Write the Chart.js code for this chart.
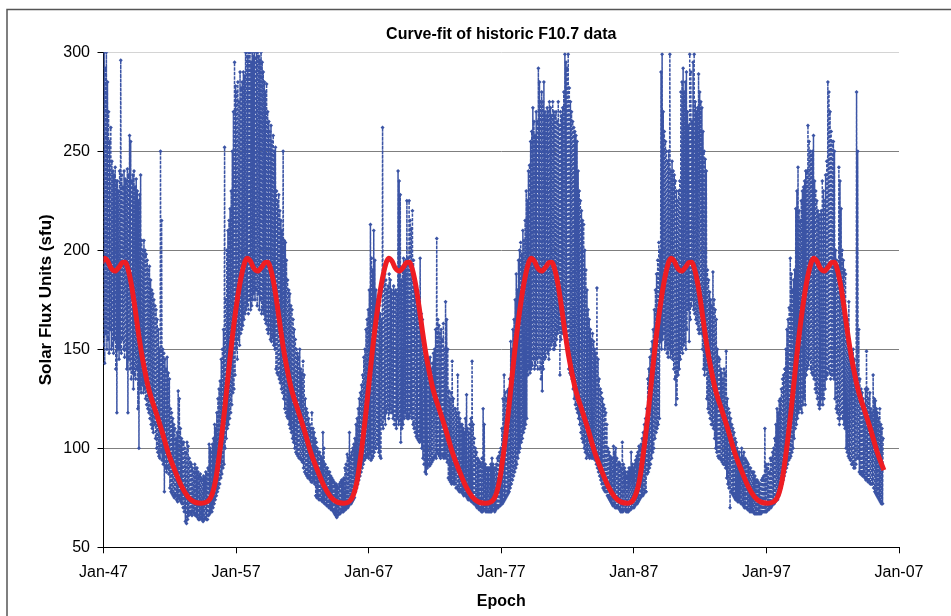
<!DOCTYPE html>
<html>
<head>
<meta charset="utf-8">
<title>Curve-fit of historic F10.7 data</title>
<script src="https://cdn.jsdelivr.net/npm/chart.js@4.4.1/dist/chart.umd.min.js"></script>
<style>
  html, body { margin: 0; padding: 0; background: #fff; }
  #chart { display: block; }
</style>
</head>
<body>
<canvas id="chart" width="951" height="616"></canvas>
<script>
// Daily F10.7 flux, summarised per month as the low and high of that month's streak (sfu)
const lo1940s = [
  152,143,158,150,155,148,160,150,152,148,155,140, // 1947
  118,150,145,150,148,155,150,146,150,140,118,145, // 1948
  140,135,138,130,137,135,140,120,100,130,128,132, // 1949
];
const hi1940s = [
  300,292,300,285,270,255,262,245,240,238,242,235,
  235,230,240,296,238,232,240,236,235,241,238,258,
  255,235,238,240,232,236,230,225,228,238,205,200,
];
const lo1950s = [
  128,130,125,122,120,118,115,112,110,108,112,105, // 1950
  100,98,96,95,98,94,92,78,90,88,90,87,
  80,78,77,76,75,76,74,73,75,74,73,72,
  70,68,63,62,64,66,68,67,66,68,67,66,
  66,65,64,64,65,64,63,64,65,64,64,66,
  67,68,68,70,72,74,76,78,80,82,85,87,
  90,92,100,105,110,112,115,118,122,128,130,137,
  150,145,155,152,158,160,162,165,168,170,172,168,
  175,170,172,175,178,175,180,172,178,170,175,168,
  170,168,165,163,160,158,160,155,154,156,152,150, // 1959
];
const hi1950s = [
  205,200,198,195,190,192,185,180,178,175,172,170,
  165,160,150,250,215,150,148,145,140,146,138,135,
  120,118,115,112,110,105,108,129,125,110,105,103,
  103,100,98,103,101,95,93,92,90,88,92,90,
  90,88,86,87,85,84,86,85,88,87,90,102,
  100,98,102,105,112,110,118,125,130,134,145,150,
  160,252,175,200,210,215,221,230,250,270,295,283,
  280,285,275,290,282,285,290,288,300,300,298,300,
  300,295,300,298,300,297,300,300,298,296,300,295,
  290,285,280,284,270,265,260,263,255,258,250,252,
];
const lo1960s = [
  140,138,137,135,133,130,128,125,120,118,116,115, // 1960
  112,110,108,105,103,100,98,97,96,95,95,94,
  93,90,88,87,86,85,85,84,83,83,84,82,
  76,75,75,74,74,74,73,73,72,72,71,71,
  70,70,69,69,68,67,66,65,66,67,67,68,
  68,68,69,69,70,70,71,72,72,73,74,75,
  78,80,82,84,86,88,90,92,94,95,96,96,
  95,97,94,95,96,98,100,100,102,98,96,95,
  112,110,115,112,118,120,115,118,120,118,115,112,
  112,110,115,112,114,103,110,112,115,118,116,115, // 1969
];
const hi1960s = [
  230,225,228,220,215,210,250,205,204,195,185,180,
  178,172,170,165,160,155,150,148,146,150,140,138,
  144,137,125,120,118,115,112,110,118,110,108,105,
  103,100,98,98,96,95,108,100,92,90,90,88,
  88,86,85,84,83,82,82,81,80,82,83,84,
  84,85,90,92,97,95,108,96,98,100,102,105,
  112,115,120,125,128,132,137,146,150,160,165,170,
  180,213,196,190,210,195,180,175,170,172,168,165,
  262,185,188,185,180,182,188,185,180,178,182,179,
  180,178,240,235,228,185,190,196,192,195,225,196,
];
const lo1970s = [
  115,116,118,115,112,110,108,106,105,104,103,104, // 1970
  100,95,92,88,87,90,92,91,92,93,94,95,
  96,95,98,97,96,95,97,96,95,96,95,93,
  85,84,83,82,83,82,82,80,80,79,78,78,
  78,77,76,77,76,75,74,74,74,73,73,72,
  72,71,70,70,69,69,68,68,69,69,68,68,
  68,68,68,68,69,69,68,69,70,70,71,71,
  72,72,73,74,75,76,77,78,80,82,84,86,
  88,90,92,95,98,100,103,105,108,110,112,115,
  137,140,138,140,142,145,140,142,145,140,146,140, // 1979
];
const hi1970s = [
  225,215,211,220,195,180,175,172,170,171,196,168,
  165,150,146,145,140,142,145,146,140,143,148,150,
  160,206,165,162,158,160,155,163,150,174,165,150,
  129,125,128,144,125,120,120,118,137,118,115,112,
  112,110,108,115,127,110,108,112,115,144,112,105,
  100,98,95,94,93,92,95,120,112,92,90,90,
  90,90,92,95,92,90,90,92,95,96,98,100,
  110,125,137,128,125,129,130,135,154,150,160,165,
  175,188,180,195,200,204,198,210,205,215,230,225,
  240,243,255,260,272,265,258,270,265,292,285,275,
];
const lo1980s = [
  135,129,140,145,146,150,148,145,150,152,154,150, // 1980
  150,152,155,158,160,137,155,158,160,163,160,162,
  150,140,138,137,135,130,125,122,120,118,115,112,
  108,105,103,100,98,95,97,96,95,96,95,95,
  95,94,92,90,88,86,84,82,80,79,78,78,
  76,75,74,73,72,71,71,70,70,70,70,69,
  68,68,68,69,69,68,68,68,69,69,70,70,
  70,71,72,72,73,74,75,76,76,77,78,78,
  87,88,90,92,95,98,100,105,108,110,112,115,
  154,150,155,158,150,152,148,146,150,146,148,145, // 1989
];
const hi1980s = [
  280,275,285,270,268,272,270,275,272,268,275,270,
  268,270,265,275,263,270,268,272,280,299,295,292,
  299,282,275,270,265,262,260,258,255,240,230,225,
  220,215,213,200,190,180,170,165,160,155,158,154,
  150,148,181,145,135,130,128,125,122,120,118,112,
  100,98,96,95,95,101,98,100,95,92,93,92,
  90,103,92,90,88,86,88,90,90,98,92,90,
  92,94,96,98,101,100,102,105,108,112,115,120,
  135,140,146,150,154,160,170,180,188,195,204,200,
  290,299,270,260,255,250,245,250,299,240,245,240,
];
const lo1990s = [
  140,135,122,125,137,140,145,150,148,152,154,150, // 1990
  160,170,154,165,172,175,170,168,165,163,160,158,
  160,158,150,140,137,140,125,120,118,115,112,112,
  110,105,100,98,96,95,95,94,93,92,92,90,
  85,82,80,70,78,77,76,75,74,74,73,73,
  73,72,72,71,70,70,70,69,69,68,68,68,
  68,67,67,67,67,67,67,67,68,68,68,68,
  68,69,69,70,70,71,72,72,73,74,74,76,
  78,80,82,84,86,88,90,92,94,95,96,98,
  100,105,110,112,115,118,120,120,118,122,125,122, // 1999
];
const hi1990s = [
  238,235,230,225,230,235,280,285,292,280,285,290,
  270,263,299,290,265,295,299,275,270,272,289,280,
  275,272,260,250,246,240,190,185,179,175,172,189,
  175,170,165,150,146,145,140,138,135,140,138,149,
  125,120,118,115,112,110,108,105,103,100,98,98,
  95,100,96,98,95,94,93,92,90,90,88,88,
  88,86,84,84,83,82,82,84,85,86,110,92,
  90,92,88,95,95,98,100,105,112,120,118,124,
  125,130,135,137,140,150,160,165,171,196,188,180,
  185,190,221,230,242,220,215,225,230,232,235,240,
];
const lo2000s = [
  137,140,142,145,140,138,137,135,130,128,125,122, // 2000
  120,122,125,122,125,130,135,137,140,138,135,137,
  137,135,125,120,118,115,112,115,118,115,112,110,
  100,98,96,95,94,92,92,90,90,92,95,95,
  88,87,87,86,86,85,84,84,83,83,82,82,
  82,80,78,77,76,75,74,73,72,72, // 2005, Jan-Oct
];
const hi2000s = [
  240,263,255,250,248,250,258,235,230,225,220,218,
  218,220,235,230,225,238,245,285,280,270,260,255,
  255,250,200,195,190,242,235,221,200,195,190,188,
  154,160,174,150,148,145,150,145,140,280,250,160,
  135,130,128,125,122,130,149,130,125,128,120,118,
  137,125,124,120,118,115,120,112,110,105,
];

// Curve fit: epoch of the dip between the twin peaks of each cycle, and the fitted shape around it
const fitDips   = [1947.87, 1958.63, 1969.31, 1980.05, 1990.60, 2001.36];
const fitOffset = [-3.6, -3.2, -2.85, -2.47, -2.1, -1.75, -1.35, -1.0, -0.8, -0.55, -0.3, 0,
                   0.3, 0.55, 0.75, 1.0, 1.25, 1.5, 1.75, 2.0, 2.25, 2.5, 2.75, 3.0,
                   3.5, 4.0, 4.5, 5.0, 5.5, 6.0, 6.5];
const fitShape  = [74.5, 83, 99, 121, 145, 165, 183, 193.5, 196, 194.5, 191, 189.5,
                   191.5, 193.8, 194, 190, 182, 171, 159, 148, 139, 131, 125, 120,
                   109.5, 98, 89, 81, 75.5, 72.8, 72.3];
const fitEnd = 2005.9;

const xTickYears = [1947, 1957, 1967, 1977, 1987, 1997, 2007];
const yTicks = [50, 100, 150, 200, 250, 300];

const FONT = "'Liberation Sans', Arial, sans-serif";
const BLUE = '#3b54a5';
const RED  = '#ee1d23';

const decades = [
  [1947, lo1940s, hi1940s],
  [1950, lo1950s, hi1950s],
  [1960, lo1960s, hi1960s],
  [1970, lo1970s, hi1970s],
  [1980, lo1980s, hi1980s],
  [1990, lo1990s, hi1990s],
  [2000, lo2000s, hi2000s],
];

const cloud = [];
decades.forEach(([start, lo, hi]) => {
  lo.forEach((v, i) => {
    const t = start + i / 12;
    cloud.push({ x: t + 0.1 / 12, y: v });
    cloud.push({ x: t + 0.6 / 12, y: hi[i] });
  });
});

const fit = [];
fitDips.forEach(d => {
  fitOffset.forEach((o, i) => {
    if (d + o <= fitEnd) fit.push({ x: d + o, y: fitShape[i] });
  });
});

const chartFrame = {
  id: 'chartFrame',
  beforeDraw(chart) {
    const { ctx, width, height } = chart;
    ctx.save();
    ctx.fillStyle = '#fff';
    ctx.fillRect(0, 0, width, height);
    ctx.strokeStyle = '#555';
    ctx.lineWidth = 1.5;
    ctx.beginPath();
    ctx.moveTo(7, height);
    ctx.lineTo(7, 9.5);
    ctx.lineTo(width, 9.5);
    ctx.stroke();
    ctx.restore();
  },
};

new Chart(document.getElementById('chart'), {
  type: 'scatter',
  plugins: [chartFrame],
  data: {
    datasets: [
      {
        label: 'Curve fit',
        data: fit,
        showLine: true,
        borderColor: RED,
        borderWidth: 5,
        pointRadius: 0,
        cubicInterpolationMode: 'monotone',
        order: 0,
        clip: 0,
      },
      {
        label: 'F10.7',
        data: cloud,
        showLine: true,
        borderColor: BLUE,
        borderWidth: 1.5,
        borderDash: [3, 1.5],
        backgroundColor: BLUE,
        pointStyle: 'rectRot',
        pointRadius: 2,
        pointBorderWidth: 0,
        order: 1,
        clip: 0,
      },
    ],
  },
  options: {
    responsive: false,
    animation: false,
    events: [],
    layout: { padding: { left: 0, top: 0, right: 52, bottom: 0 } },
    plugins: {
      legend: { display: false },
      tooltip: { enabled: false },
      title: {
        display: true,
        text: 'Curve-fit of historic F10.7 data',
        fullSize: false,
        color: '#000',
        font: { family: FONT, size: 16, weight: 'bold' },
        padding: { top: 25.4, bottom: 7.7 },
      },
    },
    scales: {
      x: {
        type: 'linear',
        min: 1947,
        max: 2007,
        afterFit: s => { s.height = 68.7; },
        afterBuildTicks: s => { s.ticks = xTickYears.map(v => ({ value: v })); },
        grid: { drawOnChartArea: false, tickLength: 6, tickColor: '#000' },
        border: { color: '#000', width: 1 },
        ticks: {
          autoSkip: false,
          maxRotation: 0,
          padding: 10,
          color: '#000',
          font: { family: FONT, size: 16 },
          callback: v => 'Jan-' + String(v).slice(2),
        },
        title: {
          display: true,
          text: 'Epoch',
          color: '#000',
          font: { family: FONT, size: 16, weight: 'bold' },
          padding: { top: 0, bottom: 4.4 },
        },
      },
      y: {
        min: 50,
        max: 300,
        afterFit: s => { s.width = 103.5; },
        afterBuildTicks: s => { s.ticks = yTicks.map(v => ({ value: v })); },
        grid: {
          color: c => (c.tick && c.tick.value === 300 ? '#d4d4d4' : '#7f7f7f'),
          tickLength: 6,
          tickColor: '#000',
        },
        border: { color: '#000', width: 1 },
        ticks: { padding: 7.5, color: '#000', font: { family: FONT, size: 16 } },
        title: {
          display: true,
          text: 'Solar Flux Units (sfu)',
          color: '#000',
          font: { family: FONT, size: 17, weight: 'bold' },
          padding: { top: 36.3, bottom: 0 },
        },
      },
    },
  },
});
</script>
</body>
</html>
